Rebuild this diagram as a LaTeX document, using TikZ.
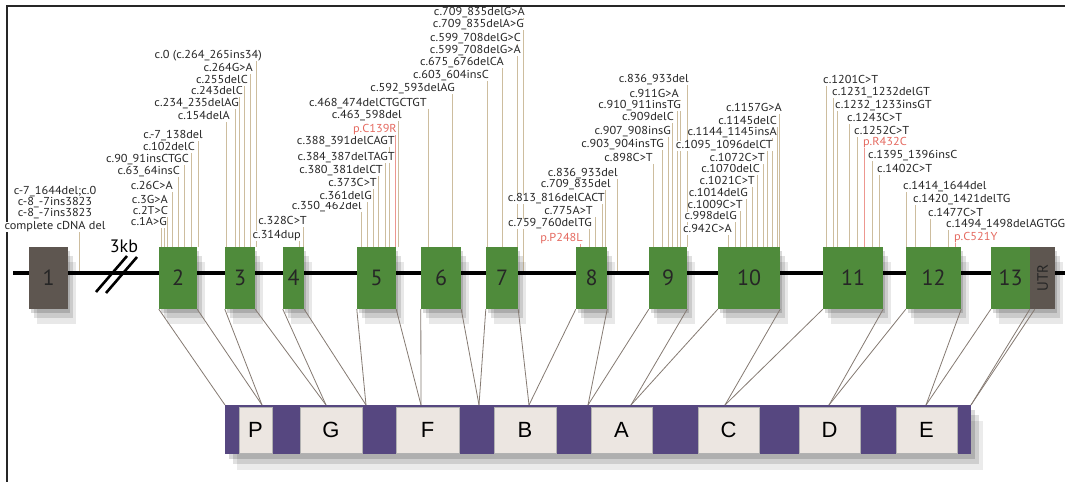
\documentclass[tikz,border=0pt]{standalone}
\usepackage{fontspec}
\setmainfont{PT Sans}
\newfontfamily\labfont[FakeStretch=1.07]{PT Sans}
\newfontfamily\boxfont{Liberation Sans}
\usetikzlibrary{shadows}
\definecolor{exg}{HTML}{4F8B3B}
\definecolor{exb}{HTML}{5E5650}
\definecolor{lbl}{HTML}{262626}
\definecolor{mred}{HTML}{E56A60}
\definecolor{ltan}{HTML}{CDBD9E}
\definecolor{purp}{HTML}{564780}
\definecolor{dbox}{HTML}{ECE6E1}
\definecolor{conn}{HTML}{857A72}
\pgfdeclarelayer{bg}
\pgfdeclarelayer{lines}
\pgfsetlayers{bg,lines,main}
\tikzset{
  mut/.style={font=\labfont\fontsize{11.5}{12}\selectfont, inner sep=0pt, fill=white, text height=7.6pt, text depth=1.8pt},
  mtxt-n/.style={text=lbl}, mtxt-r/.style={text=mred},
  mline/.style={line width=0.9pt},
  mln-n/.style={draw=ltan}, mln-r/.style={draw=mred!70},
  softsh/.style={drop shadow={shadow xshift=2pt,shadow yshift=-4pt,opacity=.15,fill=black},
                 drop shadow={shadow xshift=5pt,shadow yshift=-9pt,opacity=.12,fill=black},
                 drop shadow={shadow xshift=8pt,shadow yshift=-15pt,opacity=.09,fill=black}},
  barsh/.style={drop shadow={shadow xshift=4pt,shadow yshift=-5pt,opacity=.15,fill=black},
                drop shadow={shadow xshift=8pt,shadow yshift=-10pt,opacity=.12,fill=black},
                drop shadow={shadow xshift=12pt,shadow yshift=-16pt,opacity=.08,fill=black}},
  exon/.style={fill=exg, inner sep=0pt, minimum height=62pt, text=black!85, font=\fontsize{22}{22}\selectfont, softsh},
  grexon/.style={exon, fill=exb},
  dom/.style={fill=dbox, draw=black!30, line width=.4pt, minimum height=46pt, inner sep=0pt, font=\boxfont\fontsize{22}{22}\selectfont},
  conn/.style={draw=conn, line width=0.8pt},
}
\newcommand\mutR[7]{%
  \node[mut,mtxt-#1,anchor=east] (#2) at (#3,#4) {#7};
  \begin{pgfonlayer}{lines}
  \draw[mline,mln-#1] ([xshift=#5pt]#2.south east) -- ([xshift=#5pt]#2.south east |- #6);
  \end{pgfonlayer}}
\newcommand\mutL[7]{%
  \node[mut,mtxt-#1,anchor=west] (#2) at (#3,#4) {#7};
  \begin{pgfonlayer}{lines}
  \draw[mline,mln-#1] ([xshift=#5pt]#2.south west) -- ([xshift=#5pt]#2.south west |- #6);
  \end{pgfonlayer}}
\begin{document}
\begin{tikzpicture}[x=1pt,y=-1pt]
\useasboundingbox (0,0) rectangle (1065,482);
\begin{pgfonlayer}{bg}
\fill[white] (0,0) rectangle (1065,482);
\end{pgfonlayer}
% frame
\coordinate (fTR) at (1065,6);
\coordinate (fTL) at (7,6);
\coordinate (fBL) at (7,482);
\draw[line width=1.5pt, black!85] (fTR) -- (fTL) -- (fBL);
% backbone
\coordinate (bbL) at (13,273);
\coordinate (bbR) at (1065,273);
\draw[line width=4pt] (bbL) -- (bbR);
% break
\coordinate (s1a) at (96,292); \coordinate (s1b) at (127,256);
\coordinate (s2a) at (106,293); \coordinate (s2b) at (137,257);
\draw[line width=2.6pt] (s1a) -- (s1b) (s2a) -- (s2b);
\node[font=\fontsize{18}{18}\selectfont, inner sep=0pt] (kb) at (124,246) {3kb};
% exons
\node[grexon, minimum width=39pt] (e1) at (48.5,278) {1};
\node[exon, minimum width=38pt] (e2) at (178,278) {2};
\node[exon, minimum width=30pt] (e3) at (240,278) {3};
\node[exon, minimum width=21pt] (e4) at (293.5,278) {4};
\node[exon, minimum width=39pt] (e5) at (376.5,278) {5};
\node[exon, minimum width=40pt] (e6) at (441,278) {6};
\node[exon, minimum width=32pt] (e7) at (502,278) {7};
\node[exon, minimum width=31pt] (e8) at (591.5,278) {8};
\node[exon, minimum width=38pt] (e9) at (668,278) {9};
\node[exon, minimum width=62pt] (e10) at (749,278) {10};
\node[exon, minimum width=60pt] (e11) at (853,278) {11};
\node[exon, minimum width=55pt] (e12) at (933.5,278) {12};
\node[exon, minimum width=39pt] (e13) at (1010.5,278) {13};
\node[grexon, minimum width=25pt] (utr) at (1042.5,278) {};
\node[rotate=90, inner sep=0pt, font=\fontsize{15}{15}\selectfont, text=black!85] (utrt) at (utr.center) {UTR};
% exon 1 labels
\node[mut,text=lbl] (x1a) at (55,192) {c-7\_1644del;c.0};
\node[mut,text=lbl] (x1b) at (55,203) {c-8\_-7ins3823};
\node[mut,text=lbl] (x1c) at (55,214) {c-8\_-7ins3823};
\node[mut,text=lbl] (x1d) at (55,227) {complete cDNA del};
\begin{pgfonlayer}{lines}
\draw[mline,mln-n] ([xshift=24pt]x1d.south) -- ([xshift=24pt]x1d.south |- bbL);
\end{pgfonlayer}
% exon 2
\mutR{n}{a1}{167}{223}{-6}{e2.north}{c.1A>G}
\mutR{n}{a2}{168}{212}{-4}{e2.north}{c.2T>C}
\mutR{n}{a3}{168}{201}{-1}{e2.north}{c.3G>A}
\mutR{n}{a4}{173}{187}{-1}{e2.north}{c.26C>A}
\mutR{n}{a5}{180}{172}{-2}{e2.north}{c.63\_64insC}
\mutR{n}{a6}{189}{160}{-5}{e2.north}{c.90\_91insCTGC}
\mutR{n}{a7}{195}{148}{-4}{e2.north}{c.102delC}
\mutR{n}{a8}{203}{136}{-5}{e2.north}{c.-7\_138del}
% exon 3
\mutR{n}{b1}{230}{117}{-4}{e3.north}{c.154delA}
\mutR{n}{b2}{239}{104}{-4}{e3.north}{c.234\_235delAG}
\mutR{n}{b3}{243}{92}{-4}{e3.north}{c.243delC}
\mutR{n}{b4}{248}{81}{-4}{e3.north}{c.255delC}
\mutR{n}{b5}{253}{69}{-3}{e3.north}{c.264G>A}
\mutR{n}{b6}{262}{56}{-6}{e3.north}{c.0 (c.264\_265ins34)}
% exon 4
\mutR{n}{c1}{301}{236}{-2}{e4.north}{c.314dup}
\mutR{n}{c2}{307}{222}{-4}{e4.north}{c.328C>T}
% exon 5
\mutR{n}{d1}{362}{207}{-1}{e5.north}{c.350\_462del}
\mutR{n}{d2}{372}{197}{-5}{e5.north}{c.361delG}
\mutR{n}{d3}{377}{184}{-4}{e5.north}{c.373C>T}
\mutR{n}{d4}{383}{171}{-5}{e5.north}{c.380\_381delCT}
\mutR{n}{d5}{395}{158}{-10}{e5.north}{c.384\_387delTAGT}
\mutR{n}{d6}{395}{142}{-6}{e5.north}{c.388\_391delCAGT}
\mutR{r}{d7}{397}{130}{-2}{e5.north}{p.C139R}
\mutR{n}{d8}{402}{116}{-4}{e5.north}{c.463\_598del}
% exon 6
\mutR{n}{f1}{427}{104}{1}{e6.north}{c.468\_474delCTGCTGT}
\mutR{n}{f2}{455}{89}{-3}{e6.north}{c.592\_593delAG}
% exon 7
\mutR{n}{g1}{489}{76}{-2}{e7.north}{c.603\_604insC}
\mutR{n}{g2}{504}{63}{-2}{e7.north}{c.675\_676delCA}
\mutR{n}{g3}{521}{51}{-4}{e7.north}{c.599\_708delG>A}
\mutR{n}{g4}{521}{39}{-4}{e7.north}{c.599\_708delG>C}
\mutR{n}{g5}{524}{25}{-1}{bbL}{c.709\_835delA>G}
\mutR{n}{g6}{525}{13}{-2}{bbL}{c.709\_835delG>A}
% exon 8
\mutR{r}{h1}{583}{239}{-3}{e8.north}{p.P248L}
\mutR{n}{h2}{592}{224}{-3}{e8.north}{c.759\_760delTG}
\mutR{n}{h3}{593}{212}{2}{e8.north}{c.775A>T}
\mutR{n}{h4}{605}{199}{-3}{e8.north}{c.813\_816delCACT}
\mutR{n}{h5}{611}{185}{-6}{e8.north}{c.709\_835del}
\mutR{n}{h6}{618}{174}{-1}{bbL}{c.836\_933del}
% exon 9
\mutR{n}{i1}{653}{159}{0}{e9.north}{c.898C>T}
\mutR{n}{i2}{664}{145}{-2}{e9.north}{c.903\_904insTG}
\mutR{n}{i3}{671}{132}{-3}{e9.north}{c.907\_908insG}
\mutR{n}{i4}{674}{118}{-2}{e9.north}{c.909delC}
\mutR{n}{i5}{681}{106}{-4}{e9.north}{c.910\_911insTG}
\mutR{n}{i6}{679}{95}{1}{e9.north}{c.911G>A}
\mutR{n}{i7}{689}{80}{-2}{e9.north}{c.836\_933del}
% exon 10
\mutR{n}{k1}{732}{230}{-4}{e10.north}{c.942C>A}
\mutR{n}{k2}{737}{217}{-2}{e10.north}{c.998delG}
\mutR{n}{k3}{743}{206}{-3}{e10.north}{c.1009C>T}
\mutR{n}{k4}{748}{194}{-2}{e10.north}{c.1014delG}
\mutR{n}{k5}{755}{182}{-3}{e10.north}{c.1021C>T}
\mutR{n}{k6}{760}{170}{-3}{e10.north}{c.1070delC}
\mutR{n}{k7}{765}{159}{-2}{e10.north}{c.1072C>T}
\mutR{n}{k8}{773}{146}{-6}{e10.north}{c.1095\_1096delCT}
\mutR{n}{k9}{777}{133}{-5}{e10.north}{c.1144\_1145insA}
\mutR{n}{k10}{777}{122}{0}{e10.north}{c.1145delC}
\mutR{n}{k11}{782}{109}{-3}{e10.north}{c.1157G>A}
% exon 11
\mutL{n}{l1}{823}{81}{3}{e11.north}{c.1201C>T}
\mutL{n}{l2}{832}{93}{1}{e11.north}{c.1231\_1232delGT}
\mutL{n}{l3}{835}{106}{2}{e11.north}{c.1232\_1233insGT}
\mutL{n}{l4}{847}{119}{2}{e11.north}{c.1243C>T}
\mutL{n}{l5}{854}{132}{3}{e11.north}{c.1252C>T}
\mutL{r}{l6}{863}{143}{1}{e11.north}{p.R432C}
\mutL{n}{l7}{868}{156}{4}{e11.north}{c.1395\_1396insC}
\mutL{n}{l8}{877}{170}{2}{e11.north}{c.1402C>T}
% exon 12
\mutL{n}{n1}{903}{187}{3}{e12.north}{c.1414\_1644del}
\mutL{n}{n2}{913}{200}{2}{e12.north}{c.1420\_1421delTG}
\mutL{n}{n3}{928}{214}{2}{e12.north}{c.1477C>T}
\mutL{n}{n4}{946}{225}{2}{e12.north}{c.1494\_1498delAGTGG}
\mutL{r}{n5}{954}{238}{1}{e12.north}{p.C521Y}
% protein bar
\node[fill=purp, minimum width=746pt, minimum height=49pt, inner sep=0pt, barsh] (bar) at (598,429.5) {};
\node[dom, minimum width=33pt] (dP) at (255.5,430) {P};
\node[dom, minimum width=62pt] (dG) at (331,430) {G};
\node[dom, minimum width=63pt] (dF) at (427.5,430) {F};
\node[dom, minimum width=62pt] (dB) at (525,430) {B};
\node[dom, minimum width=61pt] (dA) at (621.5,430) {A};
\node[dom, minimum width=61pt] (dC) at (728.5,430) {C};
\node[dom, minimum width=61pt] (dD) at (829.5,430) {D};
\node[dom, minimum width=61pt] (dE) at (926.5,430) {E};
% junctions
\coordinate (j0) at (225,405);
\coordinate (j1) at (262,405);
\coordinate (j2) at (326,405);
\coordinate (j3) at (366,405);
\coordinate (j4) at (421,405);
\coordinate (j5) at (479,405);
\coordinate (j6) at (529,405);
\coordinate (j7) at (588,405);
\coordinate (j8) at (631,405);
\coordinate (j9) at (725,405);
\coordinate (j10) at (829,405);
\coordinate (j11) at (926,405);
\coordinate (j12) at (971,405);
\draw[conn] (e2.south west) -- (j0);
\draw[conn] (e2.south east) -- (j1);
\draw[conn] (e3.south west) -- (j1);
\draw[conn] (e3.south east) -- (j2);
\draw[conn] (e4.south west) -- (j2);
\draw[conn] (e4.south east) -- (j3);
\draw[conn] (e5.south west) -- (j3);
\draw[conn] (e5.south east) -- (j4);
\draw[conn] (e6.south west) -- (j4);
\draw[conn] (e6.south east) -- (j5);
\draw[conn] (e7.south west) -- (j5);
\draw[conn] (e7.south east) -- (j6);
\draw[conn] (e8.south west) -- (j6);
\draw[conn] (e8.south east) -- (j7);
\draw[conn] (e9.south west) -- (j7);
\draw[conn] (e9.south east) -- (j8);
\draw[conn] (e10.south west) -- (j8);
\draw[conn] (e10.south east) -- (j9);
\draw[conn] (e11.south west) -- (j9);
\draw[conn] (e11.south east) -- (j10);
\draw[conn] (e12.south west) -- (j10);
\draw[conn] (e12.south east) -- (j11);
\draw[conn] (e13.south west) -- (j11);
\draw[conn] (utr.south west) -- (j12);
\draw[conn] ([xshift=5pt]utr.south west) -- (j12);
\end{tikzpicture}
\end{document}
